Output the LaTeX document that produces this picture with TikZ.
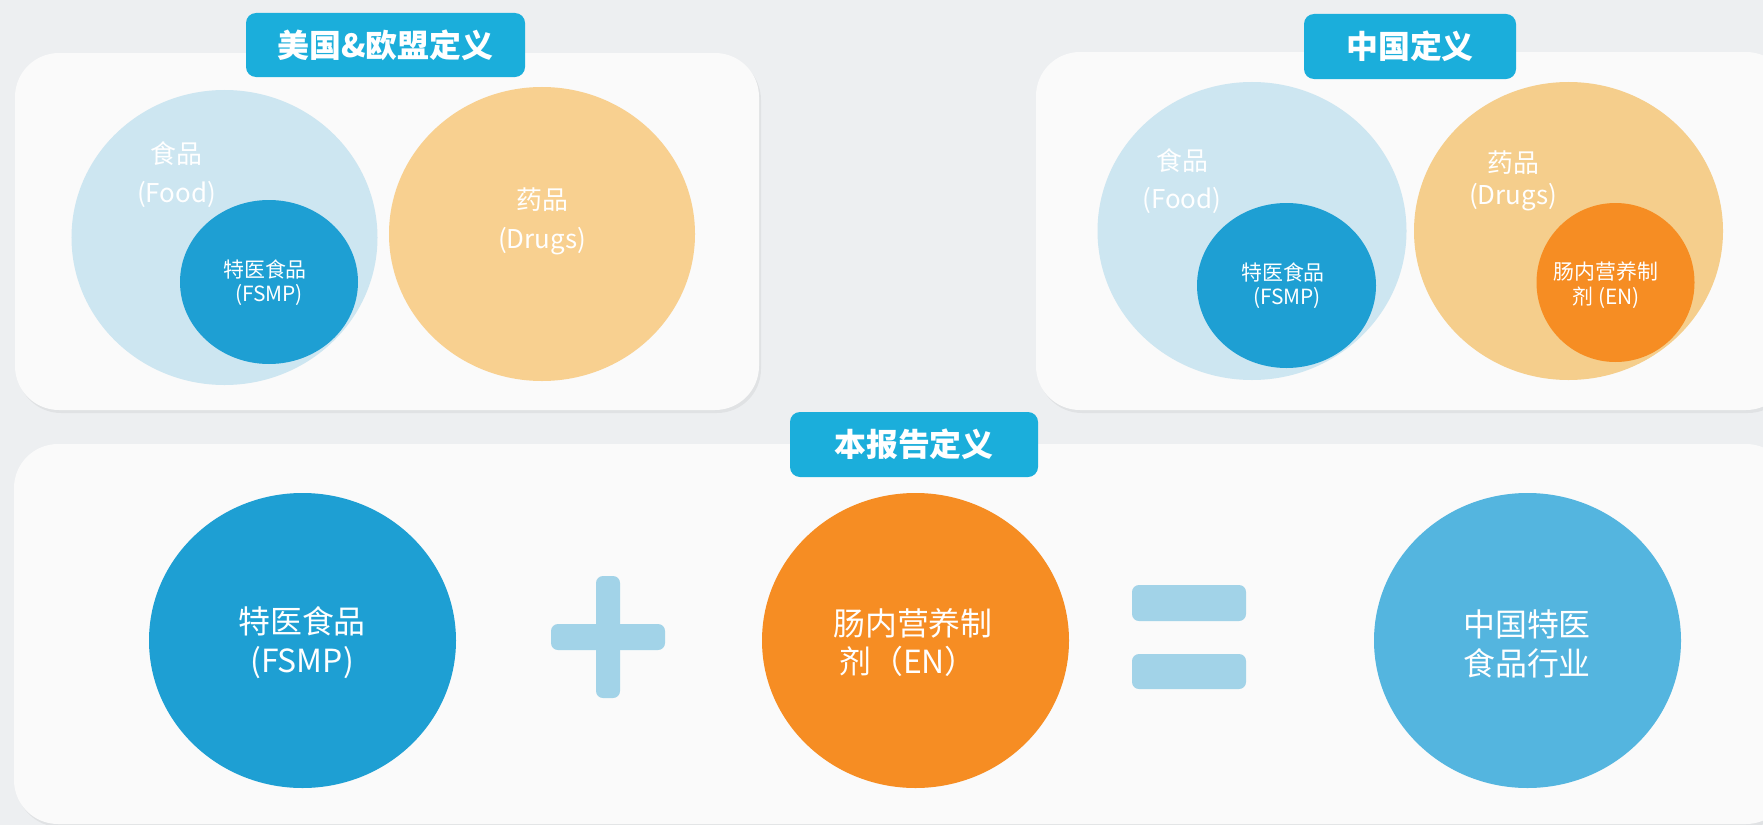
\documentclass[tikz,border=0pt]{standalone}
\usepackage{fontspec}
\setmainfont{Noto Sans CJK SC}
\usetikzlibrary{shapes.geometric,shadows}
\definecolor{bgc}{HTML}{EDEFF1}
\definecolor{panelc}{HTML}{FAFAFA}
\definecolor{tabc}{HTML}{1BAEDB}
\definecolor{foodc}{HTML}{CDE6F1}
\definecolor{fsmpc}{HTML}{1E9FD3}
\definecolor{drugc}{HTML}{F8D090}
\definecolor{drugcb}{HTML}{F5CE8C}
\definecolor{enc}{HTML}{F68D23}
\definecolor{resc}{HTML}{54B5DF}
\definecolor{barc}{HTML}{A2D3E8}
\begin{document}
\begin{tikzpicture}[x=1bp,y=-1bp,
  panel/.style={fill=panelc, rounded corners=44bp, drop shadow={shadow xshift=2bp, shadow yshift=-3bp, opacity=0.05, fill=black}},
  tab/.style={fill=tabc, rounded corners=10bp, text=white, font=\fontsize{32}{32}\selectfont\bfseries, inner sep=0, anchor=center},
  circ/.style={ellipse, inner sep=0, draw=none},
  lbl/.style={text=white, align=center, inner sep=0, anchor=center},
  big/.style={lbl, font=\fontsize{32}{39}\selectfont},
  mid/.style={lbl, font=\fontsize{26}{26}\selectfont},
  small/.style={lbl, font=\fontsize{21}{24}\selectfont},
  bar/.style={fill=barc, rounded corners=7bp}
]
\useasboundingbox (0,0) rectangle (1763,825);
\fill[bgc] (0,0) rectangle (1763,825);
% panels
\fill[panel] (15,53) rectangle (759,410);
\fill[panel] (1036,52) rectangle (1790,410);
\fill[panel] (14,444) rectangle (1790,824);
% tabs
\node[tab, minimum width=279bp, minimum height=64bp] (tabus) at (385.5,45) {美国\&欧盟定义};
\node[tab, minimum width=212bp, minimum height=65bp] (tabcn) at (1410,46.5) {中国定义};
\node[tab, minimum width=248bp, minimum height=65bp] (tabrep) at (914,444.5) {本报告定义};
% US & EU
\node[circ, fill=foodc, minimum width=306bp, minimum height=295bp] (usfood) at (224.5,237.5) {};
\node[circ, fill=fsmpc, minimum width=178bp, minimum height=164bp] (usfsmp) at (269,282) {};
\node[circ, fill=drugc, minimum width=306bp, minimum height=294bp] (usdrug) at (542,234) {};
\node[mid] (usfoodt1) at (176,154) {食品};
\node[mid] (usfoodt2) at (176.5,194) {(Food)};
\node[mid] (usdrugt1) at (542,200) {药品};
\node[mid] (usdrugt2) at (542,241) {(Drugs)};
\node[small] (usfsmpt) at (265,283) {特医食品\\\hspace*{8bp}(FSMP)};
% China
\node[circ, fill=foodc, minimum width=309bp, minimum height=298bp] (cnfood) at (1252,231) {};
\node[circ, fill=fsmpc, minimum width=179bp, minimum height=165bp] (cnfsmp) at (1286.5,285.5) {};
\node[circ, fill=drugcb, minimum width=309bp, minimum height=298bp] (cndrug) at (1568.5,231) {};
\node[circ, fill=enc, minimum width=158bp, minimum height=159bp] (cnen) at (1615.5,282.5) {};
\node[mid] (cnfoodt1) at (1182,161) {食品};
\node[mid] (cnfoodt2) at (1182,200) {(Food)};
\node[mid] (cndrugt1) at (1513,163) {药品};
\node[mid] (cndrugt2) at (1513,197) {(Drugs)};
\node[small] (cnfsmpt) at (1283,286) {特医食品\\\hspace*{8bp}(FSMP)};
\node[small, font=\fontsize{21}{25}\selectfont] (cnent) at (1606,285.5) {肠内营养制\\剂 (EN)};
% Report definition
\node[circ, fill=fsmpc, minimum width=307bp, minimum height=295bp] (rfsmp) at (302.5,640.5) {};
\node[circ, fill=enc, minimum width=307bp, minimum height=295bp] (ren) at (915.5,640.5) {};
\node[circ, fill=resc, minimum width=307bp, minimum height=295bp] (rres) at (1527.5,640.5) {};
\node[big] (rfsmpt) at (302,642.5) {特医食品\\(FSMP)};
\node[big] (rent) at (913,642.5) {肠内营养制\\\hspace*{-10bp}剂（EN）};
\node[big] (rrest) at (1527,643.5) {中国特医\\食品行业};
% plus
\fill[bar] (596,576) rectangle (620,698);
\fill[bar] (551,624) rectangle (665,650);
% equals
\fill[bar] (1132,585) rectangle (1246,621);
\fill[bar] (1132,654) rectangle (1246,689);
\end{tikzpicture}
\end{document}
